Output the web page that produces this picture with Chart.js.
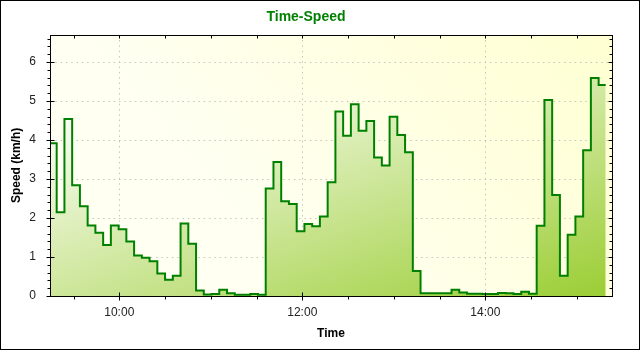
<!DOCTYPE html>
<html>
<head>
<meta charset="utf-8">
<title>Time-Speed</title>
<script src="https://cdn.jsdelivr.net/npm/chart.js@4.4.1/dist/chart.umd.min.js"></script>
<style>
  html, body { margin: 0; padding: 0; background: #fff; }
  canvas { display: block; }
</style>
</head>
<body>
<canvas id="chart" width="640" height="350"></canvas>
<script>
// Time-Speed: stepped speed trace (km/h) over one day, green gradient fill.

// Sample start times (each value holds until the next time; last entry closes the trace)
const times = [
  '9:14:34', '9:18:57', '9:24:02', '9:29:06', '9:34:11', '9:39:15', '9:44:20', '9:49:25',
  '9:54:29', '9:59:34', '10:04:38', '10:09:43', '10:14:48', '10:19:52', '10:24:57', '10:30:01',
  '10:35:06', '10:40:11', '10:45:15', '10:50:20', '10:55:24', '11:00:29', '11:05:34', '11:10:38',
  '11:15:43', '11:20:47', '11:25:52', '11:30:57', '11:36:01', '11:41:06', '11:46:10', '11:51:15',
  '11:56:20', '12:01:24', '12:06:29', '12:11:33', '12:16:38', '12:21:43', '12:26:47', '12:31:52',
  '12:36:56', '12:42:01', '12:47:06', '12:52:10', '12:57:15', '13:02:19', '13:07:24', '13:12:29',
  '13:17:33', '13:22:38', '13:27:42', '13:32:47', '13:37:52', '13:42:56', '13:48:01', '13:53:05',
  '13:58:10', '14:03:15', '14:08:19', '14:13:24', '14:18:28', '14:23:33', '14:28:38', '14:33:42',
  '14:38:47', '14:43:51', '14:48:56', '14:54:01', '14:59:05', '15:04:10', '15:09:14', '15:14:19',
  '15:18:57'
];

const speeds = [
  3.92, 2.15, 4.54, 2.84, 2.30, 1.81, 1.62, 1.31,
  1.81, 1.71, 1.40, 1.04, 0.98, 0.89, 0.58, 0.42,
  0.52, 1.86, 1.34, 0.14, 0.04, 0.05, 0.16, 0.07,
  0.03, 0.03, 0.05, 0.03, 2.76, 3.44, 2.43, 2.36,
  1.66, 1.85, 1.79, 2.04, 2.92, 4.73, 4.11, 4.92,
  4.24, 4.49, 3.55, 3.35, 4.60, 4.13, 3.69, 0.64,
  0.07, 0.07, 0.07, 0.07, 0.16, 0.09, 0.06, 0.06,
  0.05, 0.05, 0.08, 0.07, 0.05, 0.11, 0.06, 1.80,
  5.03, 2.59, 0.52, 1.57, 2.04, 3.74, 5.59, 5.41,
  5.41
];

// Axis ranges and tick marks
const xRange = ['9:14:34', '15:23:05'];
const xLabelTicks = ['10:00', '12:00', '14:00'];
const xMinorTicks = ['9:30', '10:00', '10:30', '11:00', '11:30', '12:00', '12:30',
                     '13:00', '13:30', '14:00', '14:30', '15:00'];
const yRange = [0, 6.7];
const yLabelTicks = [0, 1, 2, 3, 4, 5, 6];
const yMinorStep = 0.2;

const FONT = "'Liberation Sans', Arial, sans-serif";

function toSec(s) {
  const p = s.split(':').map(Number);
  return p[0] * 3600 + p[1] * 60 + (p[2] || 0);
}
function fmtTime(v) {
  const h = Math.floor(v / 3600), m = Math.round((v % 3600) / 60);
  return String(h).padStart(2, '0') + ':' + String(m).padStart(2, '0');
}

// plot background, frame and tick marks on all four sides
const framePlugin = {
  id: 'frame',
  beforeDraw(chart) {
    const { ctx, chartArea: a } = chart;
    ctx.save();
    ctx.fillStyle = '#ffffff';
    ctx.fillRect(0, 0, chart.width, chart.height);
    const g = ctx.createLinearGradient(a.right, a.top, a.left + a.width * 0.45, a.bottom);
    g.addColorStop(0, '#ffffd2');
    g.addColorStop(1, '#fffff2');
    ctx.fillStyle = g;
    ctx.fillRect(a.left, a.top, a.width, a.height);
    ctx.restore();
  },
  afterDraw(chart) {
    const { ctx, chartArea: a, scales } = chart;
    const L = Math.round(a.left) + 0.5, R = Math.round(a.right) + 0.5;
    const T = Math.round(a.top) + 0.5, B = Math.round(a.bottom) + 0.5;
    ctx.save();
    ctx.strokeStyle = '#000';
    ctx.lineWidth = 1;
    ctx.beginPath();
    const seg = (x1, y1, x2, y2) => { ctx.moveTo(x1, y1); ctx.lineTo(x2, y2); };

    const majorX = xLabelTicks.map(toSec);
    xMinorTicks.map(toSec).forEach(v => {
      const x = Math.round(scales.x.getPixelForValue(v)) + 0.5;
      if (majorX.includes(v)) seg(x, B - 4, x, B + 4);
      else seg(x, B, x, B + 3);
      seg(x, T, x, T + 3);
    });
    for (let v = 0; v <= yRange[1] + 1e-9; v += yMinorStep) {
      const y = Math.round(scales.y.getPixelForValue(v)) + 0.5;
      const major = Math.abs(v - Math.round(v)) < 1e-6;
      if (major) { seg(L - 4, y, L + 4, y); seg(R - 4, y, R, y); }
      else { seg(L - 3, y, L, y); seg(R - 3, y, R, y); }
    }
    ctx.stroke();
    ctx.strokeRect(L, T, R - L, B - T);
    // outer border of the picture
    ctx.strokeRect(0.5, 0.5, chart.width - 1, chart.height - 1);
    ctx.restore();
  }
};

function fillGradient(context) {
  const a = context.chart.chartArea;
  if (!a) return '#c0e080';
  const g = context.chart.ctx.createLinearGradient(
    a.left, a.top + a.height * 0.26, a.left + a.width * 0.22, a.bottom + a.height * 0.6);
  g.addColorStop(0, '#ffffff');
  g.addColorStop(1, '#9acd32');
  return g;
}

new Chart(document.getElementById('chart'), {
  type: 'line',
  data: {
    datasets: [{
      label: 'Speed',
      data: times.map((t, i) => ({ x: toSec(t), y: speeds[i] })),
      stepped: 'before',
      borderColor: '#008000',
      borderWidth: 2,
      pointRadius: 0,
      fill: 'origin',
      backgroundColor: fillGradient,
    }],
  },
  options: {
    responsive: false,
    animation: false,
    layout: { padding: { left: 0, right: 28, top: 0, bottom: 0 } },
    plugins: {
      legend: { display: false },
      tooltip: { enabled: false },
      title: {
        display: true, text: 'Time-Speed', color: '#008000',
        font: { family: FONT, size: 14, weight: 'bold' },
        padding: { top: 9, bottom: 9 },
      },
    },
    scales: {
      x: {
        type: 'linear',
        min: toSec(xRange[0]), max: toSec(xRange[1]),
        afterBuildTicks: s => { s.ticks = xLabelTicks.map(t => ({ value: toSec(t) })); },
        afterFit: s => { s.height = 54; },
        ticks: {
          callback: v => fmtTime(v), color: '#222', padding: 9,
          font: { family: FONT, size: 12 }, maxRotation: 0, autoSkip: false,
        },
        grid: { color: '#c4c4c4', lineWidth: 1, drawTicks: false },
        border: { display: false, dash: [1.5, 3.8] },
        title: {
          display: true, text: 'Time', color: '#000',
          font: { family: FONT, size: 12, weight: 'bold' },
          padding: { top: 0, bottom: 9 },
        },
      },
      y: {
        min: yRange[0], max: yRange[1],
        afterBuildTicks: s => { s.ticks = yLabelTicks.map(v => ({ value: v })); },
        afterFit: s => { s.width = 50; },
        ticks: { color: '#222', padding: 14, font: { family: FONT, size: 12 } },
        grid: { color: c => (c.tick && c.tick.value === 0 ? 'transparent' : '#c4c4c4'), lineWidth: 1, drawTicks: false },
        border: { display: false, dash: [1.5, 3.8] },
        title: {
          display: true, text: 'Speed (km/h)', color: '#000',
          font: { family: FONT, size: 12, weight: 'bold' },
          padding: { top: 9, bottom: 0 },
        },
      },
    },
  },
  plugins: [framePlugin],
});
</script>
</body>
</html>
